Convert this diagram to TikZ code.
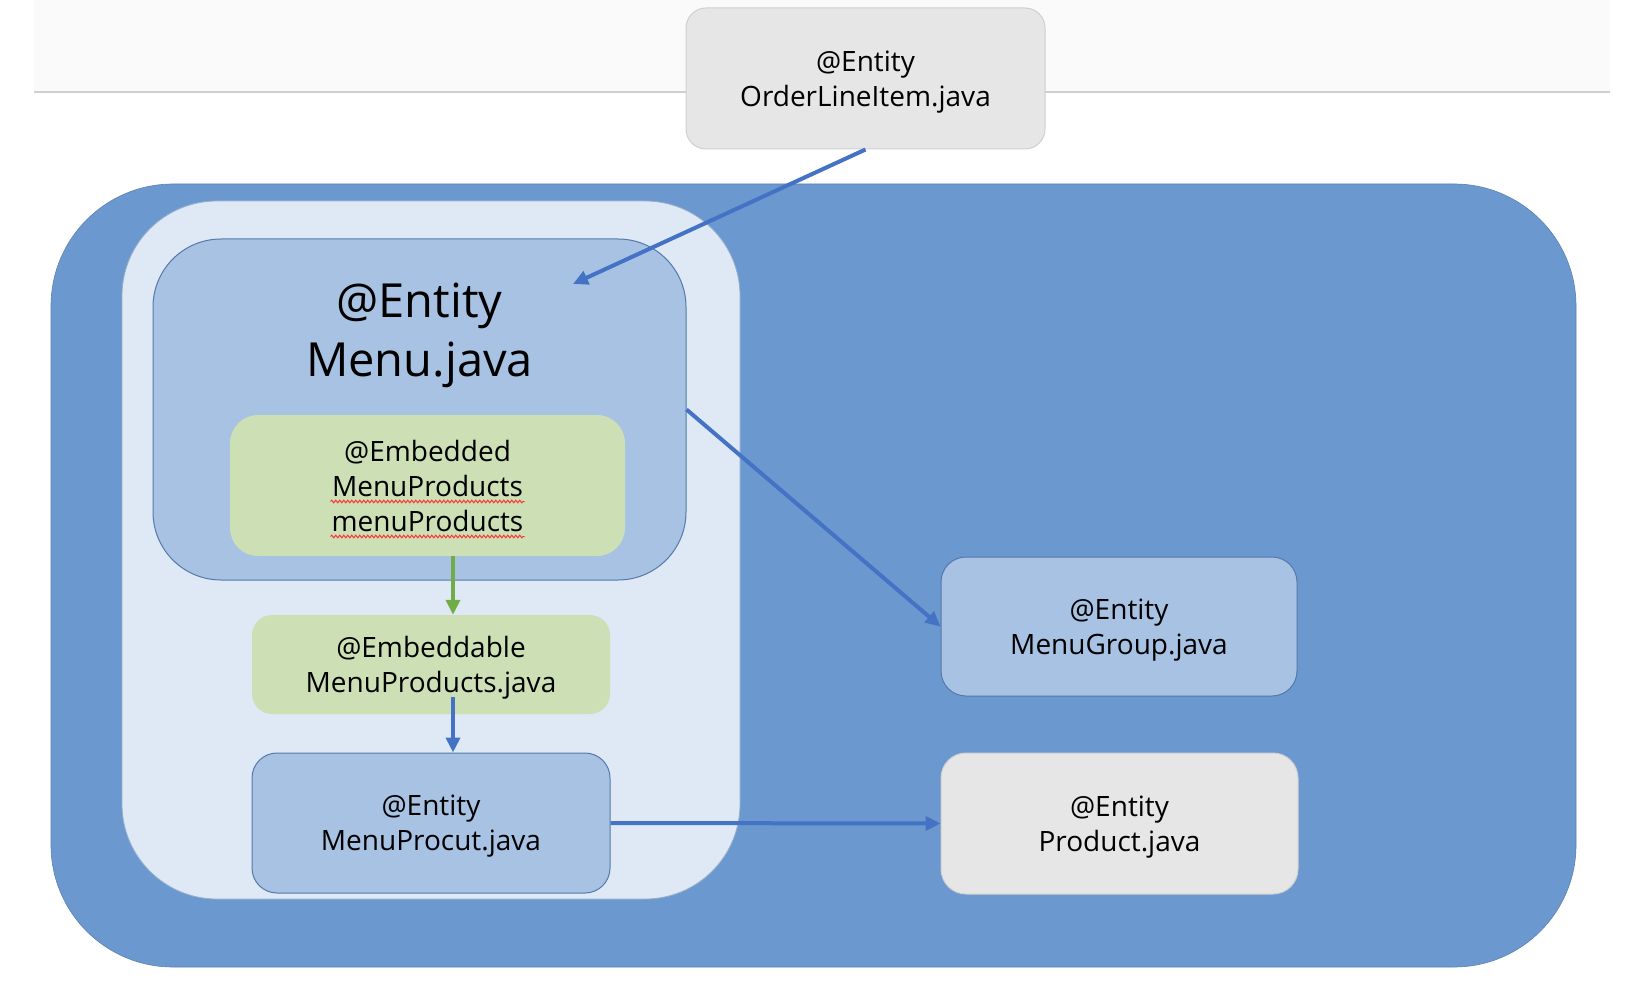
\documentclass[tikz,border=0pt]{standalone}
\usepackage{fontspec}
\setmainfont{Open Sans}
\usetikzlibrary{arrows.meta,calc,decorations.pathmorphing}
\definecolor{outerblue}{HTML}{6B99CF}
\definecolor{panelblue}{HTML}{DFE9F5}
\definecolor{boxblue}{HTML}{A7C2E3}
\definecolor{boxborder}{HTML}{5479AA}
\definecolor{greenfill}{HTML}{CCDFB5}
\definecolor{greyfill}{HTML}{E6E6E6}
\definecolor{greyborder}{HTML}{CFCFCF}
\definecolor{arrowblue}{HTML}{4472C4}
\definecolor{arrowgreen}{HTML}{70AD47}
\definecolor{bandgrey}{HTML}{FAFAFA}
\begin{document}
\begin{tikzpicture}[x=1pt,y=-1pt,
  box/.style={rounded corners=#1, align=center, inner sep=0pt, font=\fontsize{28}{35}\selectfont},
  lowtext/.style={text depth=0pt},
  bluebox/.style={box=#1, fill=boxblue, draw=boxborder, line width=1pt},
  greenbox/.style={box=#1, fill=greenfill},
  greybox/.style={box=#1, fill=greyfill, draw=greyborder, line width=1pt},
  conn/.style={draw=arrowblue, line width=4pt, -{Triangle[length=15pt,width=14pt]}},
  gconn/.style={draw=arrowgreen, line width=4pt, -{Triangle[length=15pt,width=14pt]}},
  wavy/.style={draw=red!80!white, line width=1pt, decorate, decoration={snake, amplitude=1.3pt, segment length=4pt}}
]
\useasboundingbox (0,0) rectangle (1630,1000);
\fill[white] (0,0) rectangle (1630,1000);
% top band
\fill[bandgrey] (34,0) rectangle (1610,92);
\draw[greyborder, line width=1.2pt] (34,92) -- (1610,92);

% containers
\node[rounded corners=122pt, fill=outerblue, draw=outerblue!85!black, line width=0.6pt, minimum width=1525pt, minimum height=783pt] (outer) at (813.5,575.5) {};
\node[rounded corners=95pt, fill=panelblue, draw=boxborder!60, line width=0.8pt, minimum width=618pt, minimum height=698pt] (panel) at (431,550) {};

% Menu box
\node[bluebox=68pt, minimum width=533pt, minimum height=341pt] (menu) at (419.5,409.5) {};
\node[align=center, inner sep=0pt, font=\fontsize{47}{59}\selectfont] (menutxt) at (419.5,335) {@Entity\\Menu.java};

% Embedded
\node[greenbox=28pt, minimum width=395pt, minimum height=141pt] (emb) at (427.5,485.5) {@Embedded\\MenuProducts\\menuProducts};
\draw[wavy] ($(emb.center)+(-97,16)$) -- ($(emb.center)+(97,16)$);
\draw[wavy] ($(emb.center)+(-97,51)$) -- ($(emb.center)+(97,51)$);

% Embeddable
\node[greenbox=20pt, lowtext, minimum width=358pt, minimum height=99pt] (embl) at (431,664.5) {@Embeddable\\MenuProducts.java};

% MenuProcut
\node[bluebox=25pt, lowtext, minimum width=358pt, minimum height=140pt] (mp) at (431,823) {@Entity\\MenuProcut.java};

% right side
\node[bluebox=25pt, lowtext, minimum width=356pt, minimum height=139pt] (mg) at (1119,626.5) {@Entity\\MenuGroup.java};
\node[greybox=25pt, lowtext, minimum width=357pt, minimum height=141pt] (prod) at (1119.5,823.5) {@Entity\\Product.java};

% OrderLineItem
\node[greybox=20pt, lowtext, minimum width=359pt, minimum height=141pt] (oli) at (865.5,78.5) {@Entity\\OrderLineItem.java};

% connectors
\coordinate (ax) at (453,0);
\coordinate (tipA) at (573,284);
\coordinate (startB) at (453,697);
\draw[conn] (oli.south) -- (tipA);
\draw[conn] (menu.east) -- (mg.west);
\draw[gconn] (emb.south -| ax) -- (embl.north -| ax);
\draw[conn] (startB) -- (mp.north -| ax);
\draw[conn] (mp.east) -- (prod.west);
\end{tikzpicture}
\end{document}
